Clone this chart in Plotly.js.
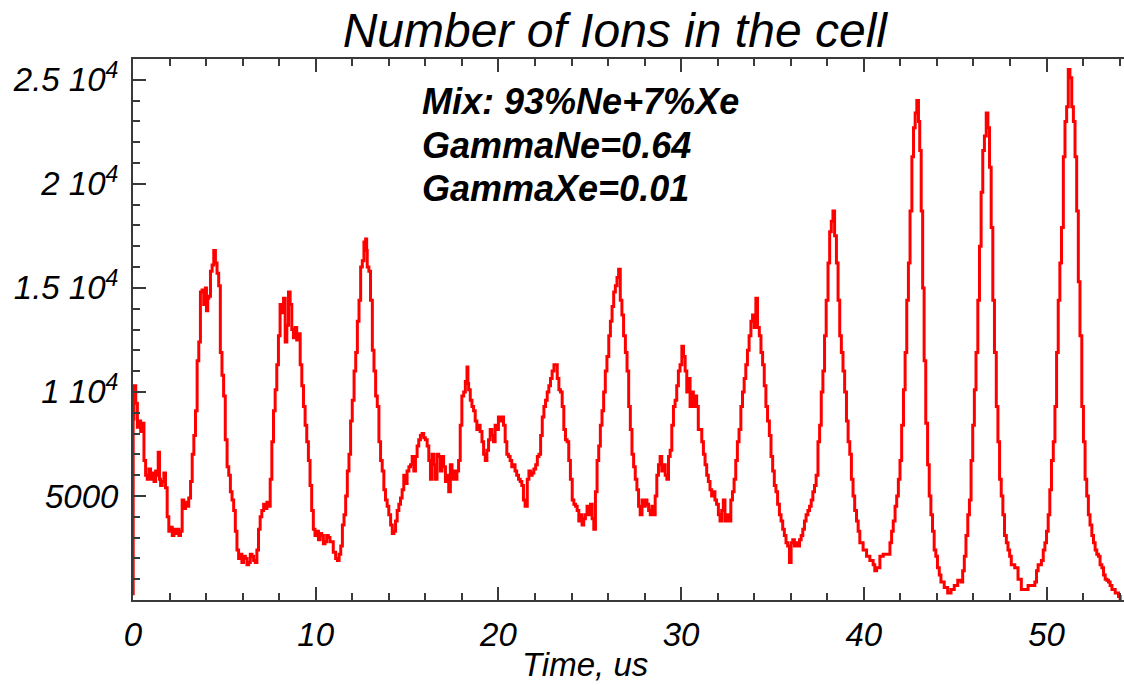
<!DOCTYPE html>
<html>
<head>
<meta charset="utf-8">
<script src="https://cdn.plot.ly/plotly-3.0.1.min.js"></script>
<style>
  html, body { margin: 0; padding: 0; background: #ffffff; }
  #chart { width: 1124px; height: 685px; }
</style>
</head>
<body>
<div id="chart"></div>
<script>
// Time axis of the simulation, microseconds
const timeUs = [
  0, 0.01, 0.05, 0.15, 0.24, 0.33, 0.42, 0.51, 0.6, 0.69, 0.78, 0.87, 0.96, 1.05, 1.15, 1.24, 1.33, 1.38, 1.45, 1.51,
  1.6, 1.69, 1.78, 1.87, 1.96, 2.05, 2.15, 2.24, 2.33, 2.42, 2.51, 2.6, 2.69, 2.78, 2.87, 2.96, 3.05, 3.15, 3.24, 3.33,
  3.42, 3.51, 3.6, 3.69, 3.78, 3.87, 3.96, 4.02, 4.09, 4.15, 4.24, 4.33, 4.42, 4.51, 4.6, 4.69, 4.78, 4.87, 4.96, 5.05,
  5.15, 5.24, 5.33, 5.42, 5.51, 5.6, 5.69, 5.78, 5.87, 5.96, 6.05, 6.15, 6.24, 6.33, 6.42, 6.51, 6.6, 6.69, 6.78, 6.87,
  6.96, 7.05, 7.15, 7.24, 7.33, 7.42, 7.51, 7.6, 7.69, 7.78, 7.87, 7.96, 8.05, 8.15, 8.24, 8.33, 8.42, 8.51, 8.6, 8.69,
  8.78, 8.87, 8.96, 9.05, 9.15, 9.24, 9.33, 9.42, 9.51, 9.6, 9.69, 9.78, 9.87, 9.96, 10.05, 10.15, 10.24, 10.33, 10.42, 10.51,
  10.6, 10.69, 10.78, 10.87, 10.96, 11.09, 11.19, 11.28, 11.37, 11.46, 11.55, 11.64, 11.73, 11.82, 11.91, 12.0, 12.1, 12.19, 12.28, 12.37,
  12.46, 12.55, 12.64, 12.73, 12.79, 12.82, 12.91, 13.0, 13.1, 13.19, 13.28, 13.37, 13.46, 13.55, 13.64, 13.73, 13.82, 13.91, 14.0, 14.1,
  14.19, 14.28, 14.37, 14.46, 14.55, 14.64, 14.73, 14.82, 14.91, 15.0, 15.1, 15.19, 15.28, 15.37, 15.46, 15.55, 15.64, 15.73, 15.82, 15.91,
  16.0, 16.1, 16.19, 16.28, 16.37, 16.46, 16.55, 16.64, 16.73, 16.82, 16.91, 17.0, 17.1, 17.19, 17.28, 17.37, 17.46, 17.55, 17.64, 17.73,
  17.82, 17.91, 18.0, 18.1, 18.19, 18.28, 18.33, 18.37, 18.46, 18.55, 18.64, 18.73, 18.82, 18.91, 19.0, 19.1, 19.19, 19.28, 19.37, 19.46,
  19.55, 19.64, 19.73, 19.82, 19.91, 20.0, 20.1, 20.19, 20.28, 20.37, 20.46, 20.55, 20.64, 20.73, 20.82, 20.91, 21.0, 21.1, 21.19, 21.28,
  21.37, 21.46, 21.58, 21.67, 21.76, 21.85, 21.94, 22.04, 22.13, 22.22, 22.31, 22.4, 22.49, 22.58, 22.67, 22.76, 22.85, 22.94, 23.04, 23.13,
  23.22, 23.31, 23.4, 23.49, 23.58, 23.67, 23.76, 23.85, 23.94, 24.04, 24.13, 24.22, 24.31, 24.4, 24.49, 24.58, 24.67, 24.76, 24.85, 24.94,
  25.04, 25.13, 25.22, 25.31, 25.4, 25.49, 25.58, 25.67, 25.76, 25.85, 25.94, 26.04, 26.13, 26.22, 26.31, 26.4, 26.49, 26.58, 26.67, 26.76,
  26.85, 26.95, 27.04, 27.13, 27.22, 27.31, 27.4, 27.49, 27.58, 27.67, 27.76, 27.86, 27.95, 28.04, 28.13, 28.22, 28.31, 28.4, 28.49, 28.58,
  28.67, 28.76, 28.85, 28.94, 29.04, 29.13, 29.22, 29.31, 29.4, 29.49, 29.58, 29.67, 29.76, 29.85, 29.94, 30.04, 30.13, 30.22, 30.31, 30.4,
  30.49, 30.58, 30.67, 30.76, 30.85, 30.94, 31.04, 31.13, 31.22, 31.31, 31.4, 31.49, 31.58, 31.67, 31.76, 31.85, 31.94, 32.04, 32.13, 32.22,
  32.31, 32.4, 32.49, 32.58, 32.72, 32.81, 32.9, 32.99, 33.08, 33.17, 33.27, 33.36, 33.45, 33.54, 33.63, 33.72, 33.82, 33.91, 34.0, 34.09,
  34.18, 34.28, 34.37, 34.46, 34.55, 34.64, 34.73, 34.83, 34.92, 35.01, 35.1, 35.19, 35.28, 35.38, 35.47, 35.56, 35.65, 35.74, 35.83, 35.93,
  36.02, 36.11, 36.2, 36.29, 36.39, 36.48, 36.57, 36.66, 36.75, 36.84, 36.94, 37.03, 37.12, 37.21, 37.3, 37.39, 37.49, 37.58, 37.67, 37.76,
  37.85, 37.94, 38.04, 38.13, 38.22, 38.31, 38.4, 38.5, 38.59, 38.68, 38.77, 38.86, 38.95, 39.05, 39.14, 39.23, 39.32, 39.41, 39.5, 39.6,
  39.69, 39.78, 39.96, 40.15, 40.33, 40.51, 40.6, 40.7, 40.88, 41.06, 41.25, 41.43, 41.52, 41.61, 41.71, 41.8, 41.89, 41.98, 42.07, 42.17,
  42.26, 42.35, 42.44, 42.53, 42.63, 42.72, 42.81, 42.9, 42.99, 43.06, 43.14, 43.22, 43.3, 43.39, 43.49, 43.58, 43.67, 43.76, 43.85, 43.94,
  44.03, 44.13, 44.22, 44.4, 44.59, 44.77, 44.95, 45.14, 45.32, 45.41, 45.5, 45.59, 45.69, 45.78, 45.87, 45.96, 46.05, 46.14, 46.24, 46.33,
  46.42, 46.51, 46.6, 46.7, 46.79, 46.88, 46.97, 47.06, 47.15, 47.25, 47.34, 47.43, 47.52, 47.61, 47.7, 47.8, 47.89, 47.98, 48.07, 48.26,
  48.44, 48.62, 48.81, 48.99, 49.17, 49.36, 49.45, 49.54, 49.63, 49.72, 49.82, 49.91, 50.0, 50.09, 50.18, 50.27, 50.37, 50.46, 50.55, 50.64,
  50.73, 50.82, 50.92, 51.01, 51.1, 51.19, 51.28, 51.38, 51.47, 51.56, 51.65, 51.74, 51.83, 51.93, 52.02, 52.11, 52.2, 52.29, 52.38, 52.48,
  52.57, 52.66, 52.75, 52.84, 52.93, 53.03, 53.12, 53.21, 53.3, 53.39, 53.48, 53.58, 53.76, 53.94, 54.03
];

// Number of ions in the cell at each time
const ionCount = [
  300, 8700, 10300, 9450, 8300, 8600, 8100, 8500, 6700, 6000, 5800, 6300, 5800, 6100, 5700, 6200, 6000, 7100, 5800, 5500,
  5700, 6100, 5400, 4000, 3300, 3500, 3100, 3400, 3200, 3400, 3100, 3300, 4800, 4400, 4700, 4500, 4900, 5700, 7000, 7900,
  9100, 11500, 12400, 14800, 14900, 14200, 15000, 13900, 14500, 14600, 15800, 16100, 16800, 16200, 15700, 15100, 11900, 10800, 9800, 7700,
  6400, 6000, 5200, 4800, 4300, 3300, 2400, 2000, 2200, 1800, 2100, 2000, 1700, 1800, 2200, 2100, 1900, 1800, 2400, 3400,
  4000, 4300, 4600, 4400, 4700, 4500, 5800, 7600, 9100, 10100, 11300, 12700, 14200, 13800, 14500, 12400, 13200, 14800, 14200, 13000,
  12600, 13100, 12500, 12800, 11300, 10300, 9300, 8400, 7600, 6700, 5500, 4300, 3400, 3100, 3300, 2900, 3200, 3100, 2700, 2800,
  3100, 3000, 2800, 2800, 2300, 2000, 1900, 2200, 2600, 3600, 4100, 5000, 6200, 7000, 8600, 9600, 11000, 11900, 13400, 14400,
  16000, 16300, 17200, 17350, 16800, 16000, 15800, 14400, 12000, 11000, 9800, 9300, 7600, 6700, 6200, 5300, 4800, 4500, 4100, 3600,
  3200, 3300, 3800, 4300, 4600, 4900, 5300, 6000, 5600, 6200, 6400, 6500, 6900, 6200, 6900, 7400, 7700, 7900, 8000, 7800,
  7700, 7400, 6700, 5800, 7000, 6500, 5800, 7000, 6900, 6200, 6900, 6400, 5700, 6000, 5200, 6500, 5800, 6200, 5800, 6200,
  6700, 8400, 9800, 10000, 10500, 11200, 10400, 10100, 9600, 9300, 9100, 8600, 8200, 8400, 8100, 7600, 7000, 6700, 7200, 7700,
  8200, 7900, 7600, 8400, 8200, 8800, 8600, 8800, 8400, 7600, 7000, 6900, 6700, 6400, 6500, 6200, 6000, 5800, 5700, 5500,
  4800, 4500, 5800, 6200, 6000, 6100, 6300, 6500, 6900, 7000, 7900, 8800, 9300, 9600, 10000, 10300, 10650, 11000, 11300, 11300,
  10650, 10100, 10000, 9300, 8200, 7700, 7600, 6700, 5800, 4800, 4600, 4500, 4300, 3800, 4100, 3600, 3900, 4100, 4500, 4100,
  4600, 3900, 3400, 5200, 6700, 7400, 8400, 9100, 10000, 11000, 11700, 12700, 13400, 14100, 14800, 15100, 15500, 15900, 14400, 13700,
  12700, 11900, 11000, 9300, 8200, 7000, 6400, 5800, 5300, 4500, 4100, 4800, 4500, 4800, 4600, 4300, 4100, 4500, 4100, 5000,
  6000, 6500, 6900, 6200, 6500, 6000, 5800, 6900, 7200, 8400, 9300, 9600, 10300, 11000, 11300, 12200, 11700, 11000, 10000, 10650,
  9300, 10000, 9300, 9800, 9300, 8200, 8200, 7600, 7000, 6500, 6000, 5700, 5300, 5000, 5200, 4800, 4600, 4100, 3800, 4300,
  4800, 3800, 4100, 3800, 4800, 5200, 5800, 6700, 7600, 8200, 9300, 10000, 10650, 11300, 12000, 12700, 13400, 13700, 13100, 14500,
  13100, 12700, 11900, 11300, 10300, 9300, 8600, 7900, 6900, 6200, 5500, 5200, 4600, 4100, 3800, 3400, 3100, 2750, 2600, 1800,
  2750, 2900, 2600, 2750, 2600, 2900, 3100, 3400, 3800, 4100, 4300, 4500, 4800, 5200, 5500, 6000, 7600, 8400, 10000, 11000,
  12700, 14400, 16200, 17700, 18200, 18700, 17500, 16200, 14400, 12700, 11900, 11000, 10000, 8600, 7600, 7000, 5800, 5000, 4300, 3800,
  3300, 2750, 2400, 2100, 1900, 1700, 1400, 1550, 2100, 2200, 2200, 2750, 3300, 3800, 4500, 5000, 5800, 6700, 8400, 10100,
  11900, 14400, 16200, 18700, 21300, 22700, 23400, 24000, 23000, 21600, 18700, 15000, 11500, 8500, 6500, 5000, 4100, 3300, 2400, 2100,
  1550, 1200, 860, 600, 340, 500, 700, 950, 860, 1400, 2100, 3100, 4100, 4800, 6700, 8400, 10100, 11900, 14400, 17000,
  19600, 21600, 22300, 23400, 22700, 20800, 17900, 14400, 11900, 9300, 7600, 5800, 5000, 4100, 3100, 2750, 2400, 2100, 1700, 1550,
  1000, 500, 500, 700, 700, 860, 1400, 1700, 1700, 1900, 2400, 2750, 3300, 4100, 5300, 6700, 7600, 9300, 11900, 14400,
  16200, 17900, 21300, 23000, 23700, 25500, 25100, 23700, 23000, 21300, 18700, 15300, 12700, 9300, 7600, 5800, 5000, 4100, 3600, 3100,
  2750, 2400, 2200, 2100, 1700, 1550, 1200, 1000, 950, 860, 700, 500, 340, 170, 0
];

// Axis labels
const xTickVals = [0, 10, 20, 30, 40, 50];
const xTickText = ['0', '10', '20', '30', '40', '50'];
const yTickVals = [5000, 10000, 15000, 20000, 25000];
const yTickText = ['5000', '1 10<sup>4</sup>', '1.5 10<sup>4</sup>', '2 10<sup>4</sup>', '2.5 10<sup>4</sup>'];

const chartTitle = 'Number of Ions in the cell';
const xTitle = 'Time, us';
const noteLines = ['Mix: 93%Ne+7%Xe', 'GammaNe=0.64', 'GammaXe=0.01'];

const FAMILY = '"Liberation Sans", Arial, Helvetica, sans-serif';
const AXIS_COLOR = '#3a3a3a';

const trace = {
  x: timeUs,
  y: ionCount,
  type: 'scatter',
  mode: 'lines',
  line: { color: '#ff0000', width: 3, shape: 'hv' },
  hoverinfo: 'x+y'
};

// Parameter block in the upper part of the plot area
const noteY = [0.921, 0.84, 0.761];
const annotations = noteLines.map((txt, i) => ({
  text: txt,
  xref: 'paper', yref: 'paper',
  x: 0.2896, y: noteY[i],
  xanchor: 'left', yanchor: 'middle',
  showarrow: false,
  font: { family: FAMILY, size: 36, color: '#000000', style: 'italic', weight: 'bold' }
}));
// Time axis caption
annotations.push({
  text: xTitle,
  xref: 'paper', yref: 'paper',
  x: 0.456, y: -0.12,
  xanchor: 'center', yanchor: 'middle',
  showarrow: false,
  font: { family: FAMILY, size: 33, color: '#000000', style: 'italic' }
});

const layout = {
  width: 1124,
  height: 685,
  paper_bgcolor: '#ffffff',
  plot_bgcolor: '#ffffff',
  showlegend: false,
  margin: { l: 133, r: 0, t: 59, b: 85, pad: 0 },
  title: {
    text: chartTitle,
    x: 0.547, xanchor: 'center',
    y: 0.956, yanchor: 'middle',
    font: { family: FAMILY, size: 48, color: '#000000', style: 'italic' }
  },
  xaxis: {
    range: [0, 54.24],
    tickmode: 'array',
    tickvals: xTickVals,
    ticktext: xTickText,
    ticks: 'inside',
    ticklen: 13,
    tickwidth: 2,
    tickcolor: AXIS_COLOR,
    minor: { tickmode: 'linear', tick0: 0, dtick: 2, ticks: 'inside', ticklen: 7, tickwidth: 2, tickcolor: AXIS_COLOR },
    showline: true,
    linecolor: AXIS_COLOR,
    linewidth: 2,
    mirror: 'allticks',
    showgrid: false,
    zeroline: false,
    ticklabelstandoff: 4,
    tickfont: { family: FAMILY, size: 33, color: '#000000', style: 'italic' }
  },
  yaxis: {
    range: [0, 26000],
    tickmode: 'array',
    tickvals: yTickVals,
    ticktext: yTickText,
    ticks: 'inside',
    ticklen: 13,
    tickwidth: 2,
    tickcolor: AXIS_COLOR,
    minor: { tickmode: 'linear', tick0: 0, dtick: 1000, ticks: 'inside', ticklen: 7, tickwidth: 2, tickcolor: AXIS_COLOR },
    showline: true,
    linecolor: AXIS_COLOR,
    linewidth: 2,
    mirror: false,
    showgrid: false,
    zeroline: false,
    ticklabelstandoff: 6,
    tickfont: { family: FAMILY, size: 33, color: '#000000', style: 'italic' }
  },
  annotations: annotations
};

Plotly.newPlot('chart', [trace], layout, { displayModeBar: false, staticPlot: true });
</script>
</body>
</html>
